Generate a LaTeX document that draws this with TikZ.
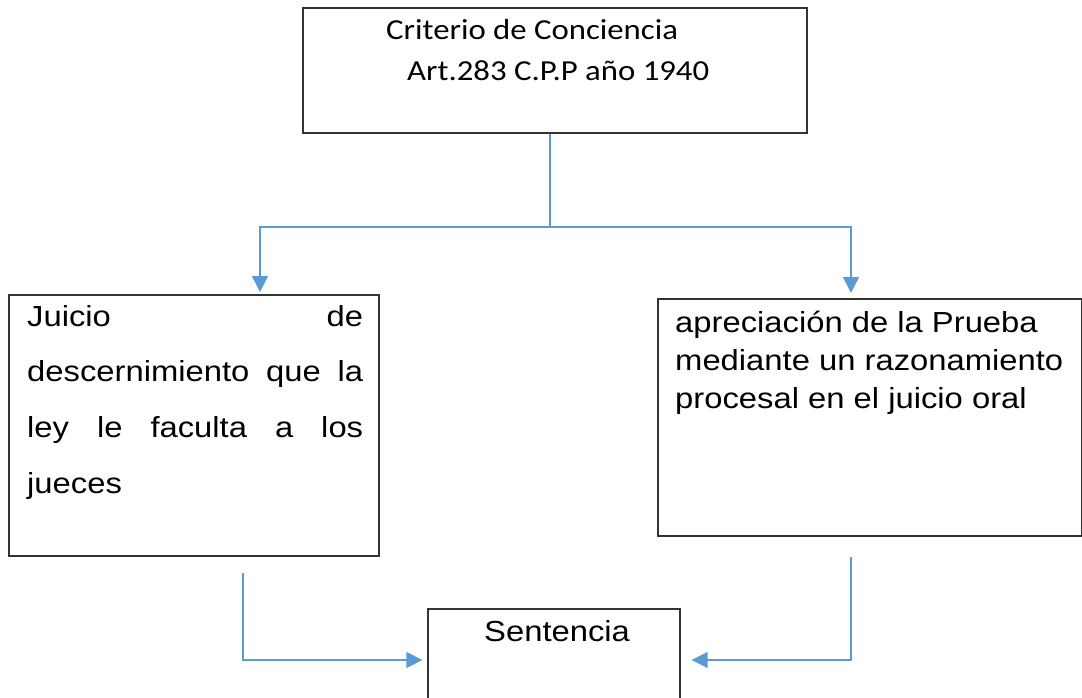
\documentclass[tikz,border=0pt]{standalone}
\usepackage{fontspec}
\usetikzlibrary{arrows.meta}
\newfontfamily\arialfont[FakeStretch=1.13]{Liberation Sans}
\newfontfamily\calfont[FakeStretch=1.13]{Carlito}
\definecolor{linkblue}{HTML}{5B9BD5}
\definecolor{boxgray}{HTML}{333333}

\begin{document}
\begin{tikzpicture}[x=1pt,y=-1pt,
    box/.style={draw=boxgray,line width=1.3pt,inner sep=0pt},
    conn/.style={draw=linkblue,line width=1.4pt,-{Triangle[width=16pt,length=16pt]}},
    txt/.style={inner sep=0pt,anchor=base west,font=\arialfont\fontsize{29}{34}\selectfont}]
    \useasboundingbox (0,0) rectangle (1082,698);
    \clip (0,0) rectangle (1082,698);

    \node[box,minimum width=504pt,minimum height=125pt] (criterio) at (555,70.5) {};
    \node[txt,font=\calfont\fontsize{29}{34}\selectfont] (crit1) at (386,40) {Criterio de Conciencia};
    \node[txt,font=\calfont\fontsize{29}{34}\selectfont] (crit2) at (407,81) {Art.283 C.P.P año 1940};

    \node[box,minimum width=370pt,minimum height=261pt] (juicio) at (194,425.5) {};
    \node[txt] (juiciotxt) at (27,326) {\parbox[t]{336pt}{\baselineskip=55.7pt
        Juicio de\linebreak descernimiento que la\linebreak ley le faculta a los\linebreak jueces\par}};

    \node[box,minimum width=423.5pt,minimum height=237pt] (prueba) at (869.75,417.5) {};
    \node[txt] (pruebatxt) at (675,332) {\parbox[t]{400pt}{\baselineskip=38pt
        apreciación de la Prueba\\mediante un razonamiento\\procesal en el juicio oral\par}};

    \node[box,minimum width=252pt,minimum height=111pt] (sentencia) at (554,664.5) {};
    \node[txt] (sentenciatxt) at (484,641) {Sentencia};

    \coordinate (split) at (550,227);
    \coordinate (ja) at (260,292);
    \coordinate (pa) at (851,293);
    \coordinate (js) at (243,573);
    \coordinate (ps) at (851,557);

    \draw[conn,-] (split |- criterio.south) -- (split);
    \draw[conn] (split) -| (ja);
    \draw[conn] (split) -| (pa);
    \draw[conn] (js) |- ([xshift=-5pt]sentencia.west |- 0,660);
    \draw[conn] (ps) |- ([xshift=11pt]sentencia.east |- 0,660);
\end{tikzpicture}
\end{document}
